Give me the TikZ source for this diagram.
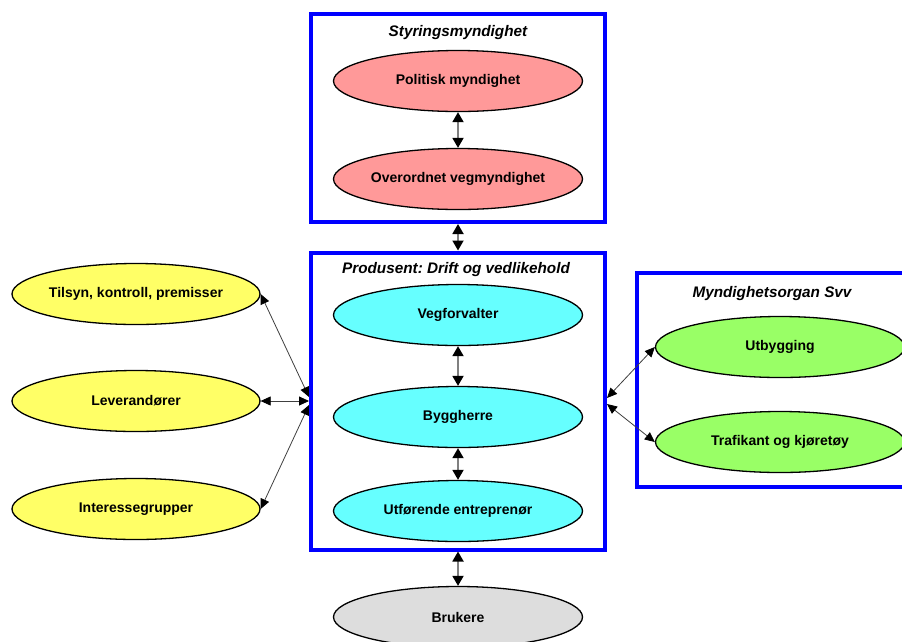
\documentclass[tikz,border=0pt]{standalone}
\usepackage{fontspec}
\setmainfont{Liberation Sans}
\usetikzlibrary{shapes.geometric,arrows.meta}
\definecolor{panelblue}{HTML}{0000FF}
\definecolor{styrfill}{HTML}{FF9999}
\definecolor{prodfill}{HTML}{66FFFF}
\definecolor{sidefill}{HTML}{FFFF66}
\definecolor{svvfill}{HTML}{99FF66}
\definecolor{userfill}{HTML}{DDDDDD}
\frenchspacing

\begin{document}
\begin{tikzpicture}[x=1pt,y=-1pt,
  role/.style={ellipse,draw=black,line width=1.3pt,minimum width=249pt,minimum height=61pt,
    inner sep=0pt,font=\fontsize{14}{16}\selectfont\bfseries},
  panel/.style={draw=panelblue,line width=4pt,inner sep=0pt},
  paneltitle/.style={anchor=base,inner sep=0pt,font=\fontsize{15.3}{18}\selectfont\bfseries\itshape},
  link/.style={gray,line width=1.8pt,{Triangle[width=11pt,length=10pt,color=black]}-{Triangle[width=11pt,length=10pt,color=black]}},
  spoke/.style={black!75,line width=.8pt,{Triangle[width=9pt,length=10pt,color=black]}-{Triangle[width=9pt,length=10pt,color=black]}}]
\path[use as bounding box,clip] (0,0) rectangle (902,641);
\fill[white] (0,0) rectangle (902,641);
\node[panel,minimum width=294pt,minimum height=208.5pt] (styr) at (458,117.75) {};
\node[panel,minimum width=294pt,minimum height=297pt] (prod) at (458,401) {};
\node[panel,minimum width=288pt,minimum height=213.5pt] (svv) at (781,379.75) {};
\node[paneltitle] (styrtitle) at (458,36) {Styringsmyndighet};
\node[paneltitle] (prodtitle) at (456,273.5) {Produsent: Drift og vedlikehold};
\node[paneltitle] (svvtitle) at (772,297) {Myndighetsorgan Svv};
\node[role,fill=styrfill] (polit) at (458,81) {Politisk myndighet};
\node[role,fill=styrfill] (overord) at (458,179) {Overordnet vegmyndighet};
\node[role,fill=prodfill] (vegforv) at (458,315) {Vegforvalter};
\node[role,fill=prodfill] (bygg) at (458,417) {Byggherre};
\node[role,fill=prodfill] (utfor) at (458,511) {Utførende entreprenør};
\node[role,fill=userfill] (brukere) at (458,617) {Brukere};
\node[role,fill=sidefill,minimum width=248pt] (tilsyn) at (136,294) {Tilsyn, kontroll, premisser};
\node[role,fill=sidefill,minimum width=248pt] (lever) at (136,401) {Leverandører};
\node[role,fill=sidefill,minimum width=248pt] (interesse) at (136,509) {Interessegrupper};
\node[role,fill=svvfill] (utbygg) at (780,347) {Utbygging};
\node[role,fill=svvfill] (trafikant) at (780,442) {Trafikant og kjøretøy};
\draw[link] (polit) -- (overord);
\draw[link] (styr) -- (prod);
\draw[link] (vegforv) -- (bygg);
\draw[link] (bygg) -- (utfor);
\draw[link] (prod) -- (brukere);
\draw[spoke] (tilsyn.east) -- ([yshift=4pt]prod.west);
\draw[spoke] (lever.east) -- (prod.west);
\draw[spoke] (interesse.east) -- ([yshift=-4pt]prod.west);
\draw[spoke] (utbygg.west) -- ([yshift=3pt]prod.east);
\draw[spoke] (trafikant.west) -- ([yshift=-3pt]prod.east);
\end{tikzpicture}
\end{document}
